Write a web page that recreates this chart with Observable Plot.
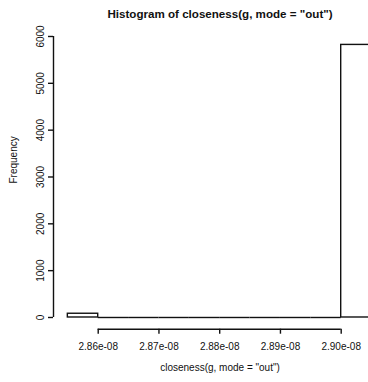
<!DOCTYPE html>
<html>
<head>
<meta charset="utf-8">
<script src="https://cdn.jsdelivr.net/npm/d3@7"></script>
<script src="https://cdn.jsdelivr.net/npm/@observablehq/plot@0.6"></script>
<style>
  html, body { margin: 0; padding: 0; background: #fff; overflow: hidden; }
</style>
</head>
<body>
<div id="chart"></div>
<script>
// Histogram bins (left edges, right edges) and counts
const binStart = [2.855e-8, 2.860e-8, 2.865e-8, 2.870e-8, 2.875e-8, 2.880e-8, 2.885e-8, 2.890e-8, 2.895e-8, 2.900e-8];
const binEnd   = [2.860e-8, 2.865e-8, 2.870e-8, 2.875e-8, 2.880e-8, 2.885e-8, 2.890e-8, 2.895e-8, 2.900e-8, 2.905e-8];
const counts   = [80, 0, 0, 0, 0, 0, 0, 0, 0, 5820];

const xTicks = [2.86e-8, 2.87e-8, 2.88e-8, 2.89e-8, 2.90e-8];
const yTicks = [0, 1000, 2000, 3000, 4000, 5000, 6000];

const title = 'Histogram of closeness(g, mode = "out")';
const xLabel = 'closeness(g, mode = "out")';
const yLabel = 'Frequency';

const bins = binStart.map((s, i) => ({x1: s, x2: binEnd[i], count: counts[i]}));

const xDomain = [2.85264e-8, 2.904494e-8];
const yDomain = [-250, 6100];

const fmt = v => v.toExponential(2).replace(/e-(\d)$/, "e-0$1");
const ink = "#111";
const font = "Liberation Sans, Arial, sans-serif";

const chart = Plot.plot({
  width: 368,
  height: 382,
  marginLeft: 53,
  marginRight: 0,
  marginTop: 31.3,
  marginBottom: 53.3,
  style: {fontFamily: font, fontSize: "10px", color: ink, background: "#fff"},
  x: {domain: xDomain},
  y: {domain: yDomain},
  marks: [
    // zero-count bins drawn as baseline segments
    Plot.ruleY(bins.filter(d => d.count === 0), {x1: "x1", x2: "x2", y: "count", stroke: ink, strokeWidth: 1.4}),
    Plot.rect(bins.filter(d => d.count > 0), {x1: "x1", x2: "x2", y1: 0, y2: "count", fill: "white", stroke: ink, strokeWidth: 1.4, clip: true}),
    // axes
    Plot.axisX({ticks: xTicks, tickSize: 5, tickPadding: 9, tickFormat: fmt, label: null, stroke: ink, strokeWidth: 1.4, fill: ink}),
    Plot.ruleY([yDomain[0]], {x1: xTicks[0], x2: xTicks[xTicks.length - 1], stroke: ink, strokeWidth: 1.4}),
    Plot.axisY({ticks: yTicks, tickSize: 5, tickPadding: 5, tickRotate: -90, tickFormat: d => String(d), label: null, stroke: ink, strokeWidth: 1.4, fill: ink}),
    Plot.ruleX([xDomain[0]], {y1: yTicks[0], y2: yTicks[yTicks.length - 1], stroke: ink, strokeWidth: 1.4}),
    // titles
    Plot.text([title], {frameAnchor: "top", text: d => d, dx: 9, dy: -22, fontWeight: "bold", fontSize: 11.6, fill: ink}),
    Plot.text([xLabel], {frameAnchor: "bottom", text: d => d, dx: 9, dy: 42, fontSize: 10, fill: ink}),
    Plot.text([yLabel], {frameAnchor: "left", text: d => d, dx: -40, dy: 3, rotate: -90, fontSize: 10, fill: ink})
  ]
});
document.getElementById("chart").appendChild(chart);
</script>
</body>
</html>
